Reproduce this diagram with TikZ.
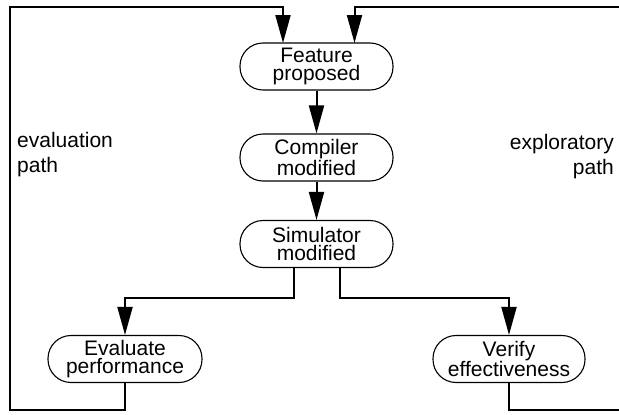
\documentclass[tikz,border=0pt]{standalone}
\usepackage{fontspec}
\setmainfont{Liberation Sans}
\usetikzlibrary{arrows.meta}
\begin{document}
\begin{tikzpicture}[x=1pt,y=-1pt,
  stepbox/.style={draw=black, line width=1.1pt, rounded corners=23pt,
    minimum width=153pt, minimum height=47pt, inner sep=0pt, align=center,
    font=\fontsize{21}{18.5}\selectfont},
  conn/.style={line width=2pt},
  arr/.style={conn, -{Triangle[length=28pt,width=15pt]}},
  lbl/.style={inner sep=0pt, font=\fontsize{21}{25.5}\selectfont}
]
\useasboundingbox (0,0) rectangle (619,415);
\node[stepbox] (feat) at (316.5,66.5) {Feature\\proposed};
\node[stepbox] (comp) at (316.5,157.5) {Compiler\\modified};
\node[stepbox] (sim) at (316.5,244) {Simulator\\modified};
\node[stepbox, minimum width=154pt] (eval) at (125,359) {Evaluate\\performance};
\node[stepbox, minimum width=152pt] (ver) at (509,359) {Verify\\effectiveness};

\node[lbl, align=left, anchor=north west] (evp) at (17,132) {evaluation\\path};
\node[lbl, align=right, anchor=north east] (exp) at (614,134) {exploratory\\path};

\draw[arr] (feat) -- (comp);
\draw[arr] (comp) -- (sim);

\coordinate (sl) at (294,267);
\coordinate (sr) at (340,267);
\draw[arr] (sl) |- (125,298) -- (eval.north);
\draw[arr] (sr) |- (509,298) -- (ver.north);

\coordinate (eb) at (125,410);
\coordinate (fl) at (283,43);
\draw[arr] (eval.south) -- (eb) -| (10,7) -| (fl);

\coordinate (fr) at (354.5,43);
\draw[arr] (ver.south) |- (625,410) |- (fr |- 0,7) -- (fr);
\end{tikzpicture}
\end{document}
